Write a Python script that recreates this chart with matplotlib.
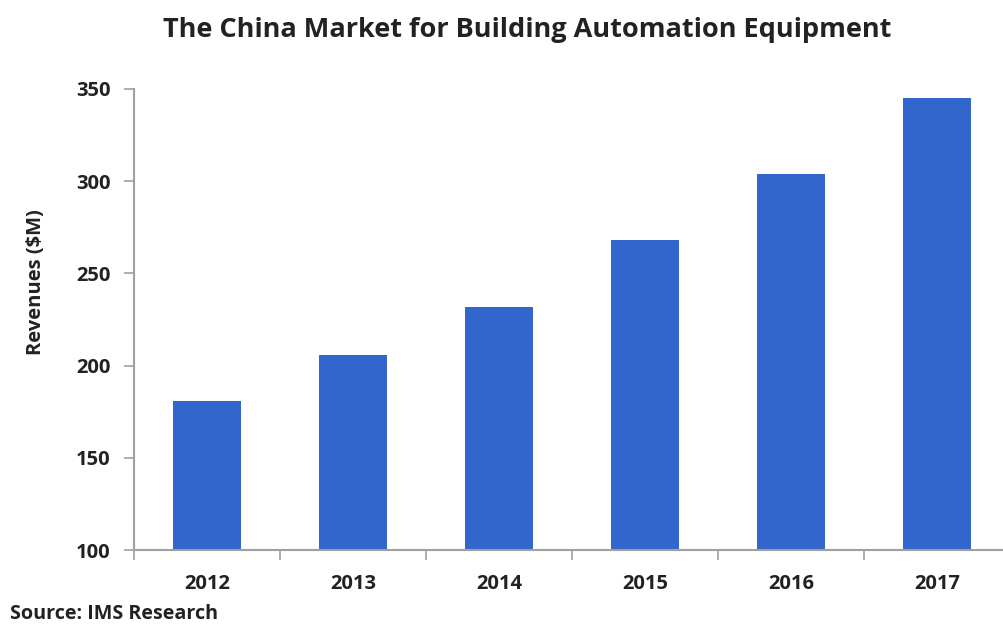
import matplotlib
matplotlib.use("Agg")
import matplotlib.pyplot as plt
import numpy as np

years = ["2012", "2013", "2014", "2015", "2016", "2017"]
revenues = [181, 206, 232, 268, 304, 345]
yticks = [100, 150, 200, 250, 300, 350]

plt.rcParams['font.family'] = ['Open Sans', 'DejaVu Sans']

fig = plt.figure(figsize=(10.04, 6.25), dpi=100)
ax = fig.add_axes([134/1004, 75/625, 870/1004, 461/625])

x = np.arange(len(years))
ax.bar(x, revenues, width=0.47, color="#3366CC", zorder=2)
ax.set_ylim(100, 350)
ax.set_xlim(-0.5, 5.5 - 6/146)
ax.set_yticks(yticks)
ax.set_yticklabels([str(v) for v in yticks], fontsize=14.5, fontweight='bold', color='#222222')
ax.set_xticks(x)
ax.set_xticklabels(years, fontsize=14.5, fontweight='bold', color='#222222')
ax.tick_params(axis='x', length=0, pad=17)
ax.set_xticks(np.arange(len(years)) - 0.5, minor=True)
ax.tick_params(axis='x', which='minor', length=7, color='#a0a0a0', width=1.2)
ax.tick_params(axis='y', length=7, color='#a0a0a0', width=1.2, pad=10, direction='out')
for s in ['top', 'right']:
    ax.spines[s].set_visible(False)
for s in ['left', 'bottom']:
    ax.spines[s].set_color('#a0a0a0')
    ax.spines[s].set_linewidth(1.5)

fig.text(36/1004, 1 - 282/625, "Revenues ($M)", rotation=90, ha='center', va='center',
         fontsize=14.5, fontweight='bold', color='#222222')
fig.text(527/1004, 1 - 30/625, "The China Market for Building Automation Equipment",
         ha='center', va='center', fontsize=19.5, fontweight='bold', color='#222222')
fig.text(10/1004, 1 - 614/625, "Source: IMS Research", ha='left', va='center',
         fontsize=14.2, fontweight='bold', color='#222222')

fig.savefig("out.png", dpi=100)
